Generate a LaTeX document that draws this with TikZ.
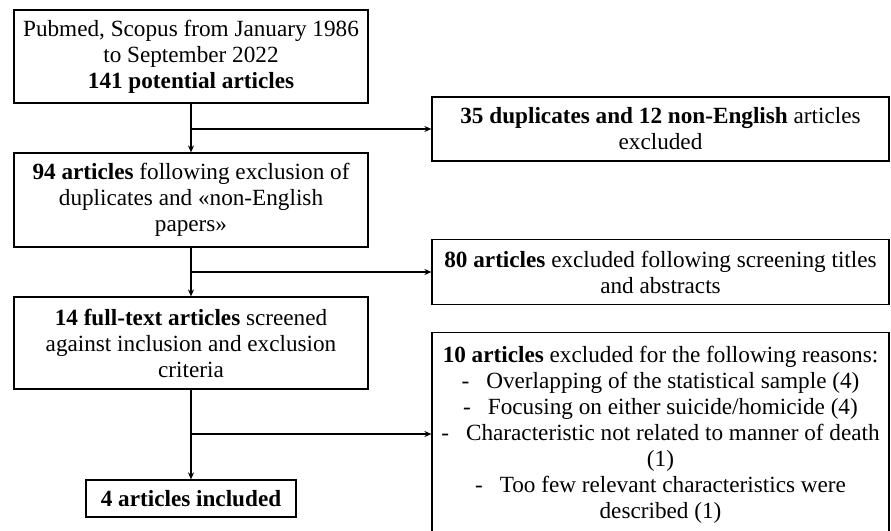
\documentclass[tikz,border=0pt]{standalone}
\usepackage{fontspec}
\setmainfont{Liberation Serif}
\usetikzlibrary{arrows.meta}
\begin{document}
\begin{tikzpicture}[x=1pt,y=-1pt,
  every node/.style={font=\fontsize{23.2}{26}\selectfont},
  box/.style={draw, line width=1.2pt, align=center, inner sep=0pt},
  conn/.style={line width=1.2pt, -{Stealth[length=7pt,width=6pt]}}]
\useasboundingbox (0,0) rectangle (891,530);
\node[box, minimum width=354, minimum height=93] (b1) at (191,56.5)
  {Pubmed, Scopus from January 1986\\to September 2022\\\textbf{141 potential articles}};
\node[box, minimum width=354, minimum height=94] (b2) at (191,200)
  {\textbf{94 articles} following exclusion of\\duplicates and «non-English\\papers»};
\node[box, minimum width=354, minimum height=92] (b3) at (191,343)
  {\textbf{14 full-text articles} screened\\against inclusion and exclusion\\criteria};
\node[box, minimum width=210, minimum height=37] (b4) at (191,498.5)
  {\textbf{4 articles included}};
\node[box, minimum width=457, minimum height=64] (e1) at (660.5,129)
  {\textbf{35 duplicates and 12 non-English} articles\\excluded};
\node[box, minimum width=457, minimum height=65] (e2) at (660.5,272)
  {\textbf{80 articles} excluded following screening titles\\and abstracts};
\node[box, minimum width=457, minimum height=214, anchor=north] (e3) at (660.5,332) {};
\node[align=center, anchor=north, inner sep=0pt] (e3t) at (660.5,346)
  {\textbf{10 articles} excluded for the following reasons:\\
   -\hspace{17pt}Overlapping of the statistical sample (4)\\
   -\hspace{17pt}Focusing on either suicide/homicide (4)\\
   -\hspace{17pt}Characteristic not related to manner of death\\
   (1)\\
   -\hspace{17pt}Too few relevant characteristics were\\
   described (1)};
\coordinate (j3) at (191,434);
\draw[conn] (b1.south) -- (b2.north);
\draw[conn] (b2.south) -- (b3.north);
\draw[conn] (b3.south) -- (b4.north);
\draw[conn] (b1.south |- e1.west) -- (e1.west);
\draw[conn] (b2.south |- e2.west) -- (e2.west);
\draw[conn] (j3) -- (j3 -| e3.west);
\end{tikzpicture}
\end{document}
